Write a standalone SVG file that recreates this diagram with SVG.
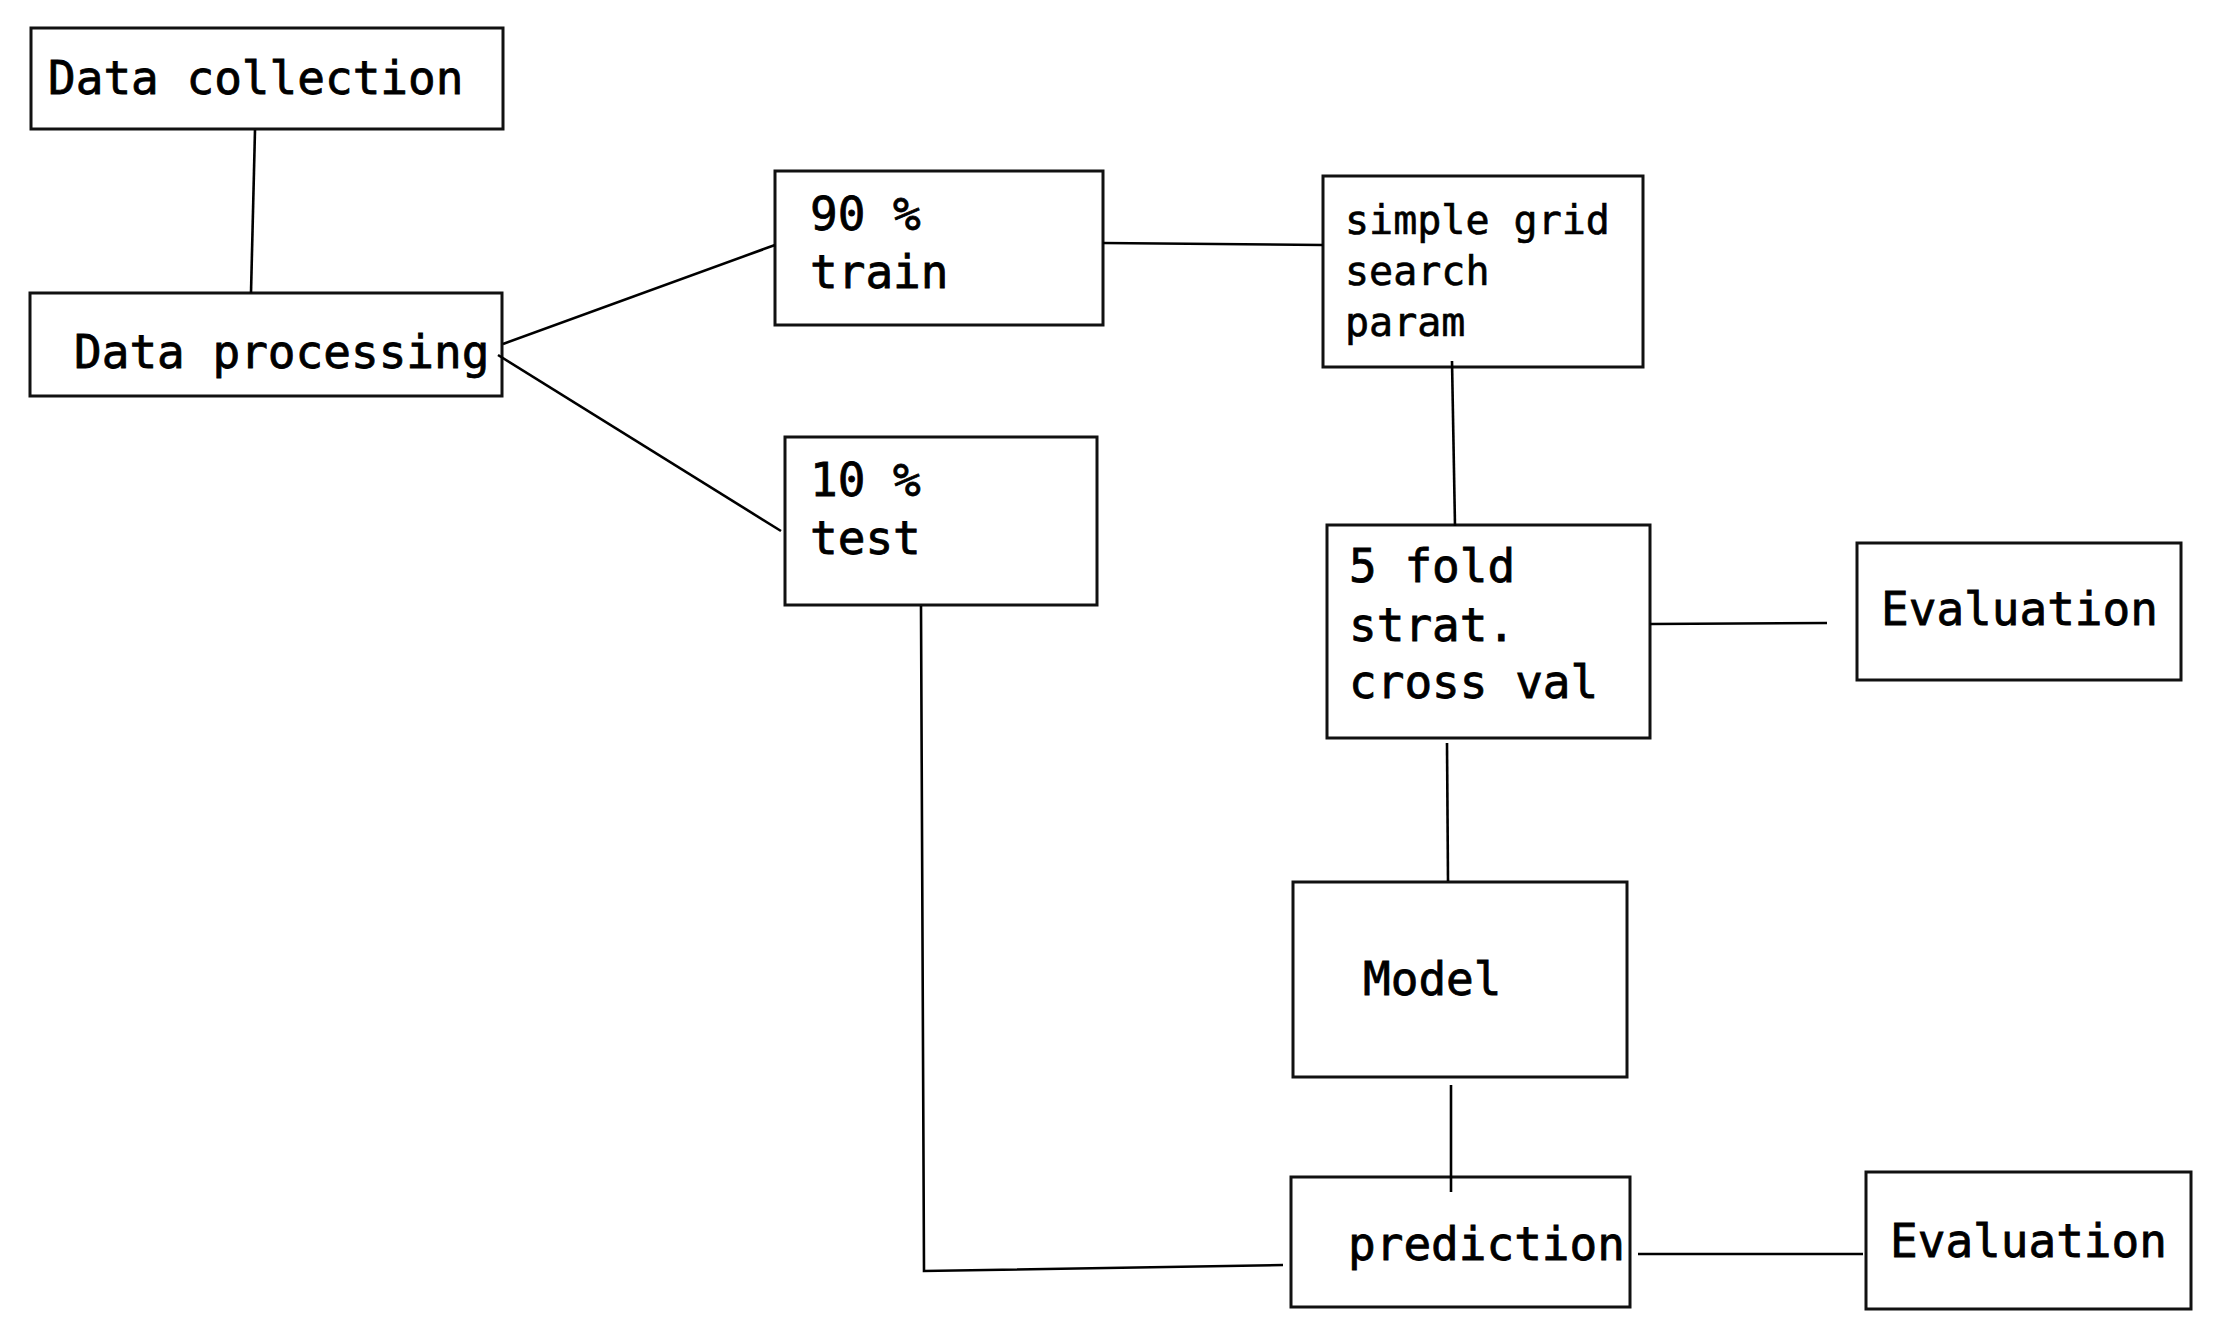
<svg xmlns="http://www.w3.org/2000/svg" width="2221" height="1341" viewBox="0 0 2221 1341">
<style>
.box{fill:#fff;stroke:#111;stroke-width:3}
.t{font-family:"DejaVu Sans Mono","Liberation Mono",monospace;font-size:46px;fill:#000;stroke:#000;stroke-width:0.8}
.s{font-size:40px;stroke-width:0.6}
.c{fill:none;stroke:#000;stroke-width:2.6}
</style>
<rect width="2221" height="1341" fill="#fff"/>
<g id="data-collection">
<rect class="box" x="31" y="28" width="472" height="101"/>
<text class="t" x="48" y="94">Data collection</text>
</g>
<g id="data-processing">
<rect class="box" x="30" y="293" width="472" height="103"/>
<text class="t" x="74" y="368">Data processing</text>
</g>
<g id="train">
<rect class="box" x="775" y="171" width="328" height="154"/>
<text class="t" x="810" y="230">90 %</text>
<text class="t" x="810" y="288">train</text>
</g>
<g id="test">
<rect class="box" x="785" y="437" width="312" height="168"/>
<text class="t" x="810" y="496">10 %</text>
<text class="t" x="810" y="554">test</text>
</g>
<g id="grid-search">
<rect class="box" x="1323" y="176" width="320" height="191"/>
<text class="t s" x="1345" y="234">simple grid</text>
<text class="t s" x="1345" y="285">search</text>
<text class="t s" x="1345" y="336">param</text>
</g>
<g id="cross-val">
<rect class="box" x="1327" y="525" width="323" height="213"/>
<text class="t" x="1349" y="582">5 fold</text>
<text class="t" x="1349" y="641">strat.</text>
<text class="t" x="1349" y="698">cross val</text>
</g>
<g id="evaluation-1">
<rect class="box" x="1857" y="543" width="324" height="137"/>
<text class="t" x="1881" y="625">Evaluation</text>
</g>
<g id="model">
<rect class="box" x="1293" y="882" width="334" height="195"/>
<text class="t" x="1363" y="995">Model</text>
</g>
<g id="prediction">
<rect class="box" x="1291" y="1177" width="339" height="130"/>
<text class="t" x="1348" y="1260">prediction</text>
</g>
<g id="evaluation-2">
<rect class="box" x="1866" y="1172" width="325" height="137"/>
<text class="t" x="1890" y="1257">Evaluation</text>
</g>
<g id="connectors">
<line class="c" x1="255" y1="130" x2="251" y2="293"/>
<line class="c" x1="503" y1="344" x2="775" y2="245"/>
<line class="c" x1="498" y1="355" x2="781" y2="531"/>
<line class="c" x1="1103" y1="243" x2="1323" y2="245"/>
<line class="c" x1="1452" y1="361" x2="1455" y2="526"/>
<line class="c" x1="1650" y1="624" x2="1827" y2="623"/>
<line class="c" x1="1447" y1="743" x2="1448" y2="881"/>
<line class="c" x1="1451" y1="1085" x2="1451" y2="1192"/>
<polyline class="c" points="921,606 924,1271 1283,1265"/>
<line class="c" x1="1638" y1="1254" x2="1863" y2="1254"/>
</g>
</svg>
